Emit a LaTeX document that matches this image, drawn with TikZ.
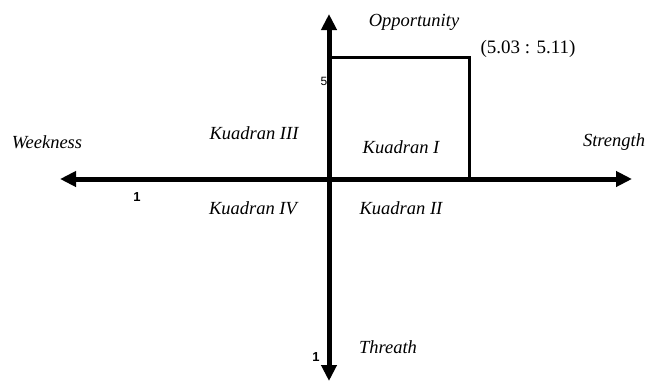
\documentclass[tikz,border=0pt]{standalone}
\usepackage{fontspec}
\setmainfont{Liberation Serif}
\newfontfamily\numfont{Liberation Sans}
\usetikzlibrary{positioning}
\usetikzlibrary{arrows.meta}

\begin{document}
\begin{tikzpicture}[
    x=1pt, y=1pt,
    >={Triangle[length=16pt,width=15pt]},
    % node styles
    lbl/.style = {
      inner sep=0pt,
      font=\itshape\fontsize{18.5}{20}\selectfont
    },
    val/.style = {
      inner sep=0pt,
      font=\fontsize{19}{21}\selectfont
    },
    tick/.style = {
      inner sep=0pt,
      font=\numfont\bfseries\fontsize{13}{15}\selectfont
    },
    % line styles
    axis/.style = {<->, line width=5pt},
    box/.style = {line width=3pt}
  ]
  \useasboundingbox (0,0) rectangle (647,-381);

  % --- Axis ends
  \coordinate (west)  at (60,-179);
  \coordinate (east)  at (632,-179);
  \coordinate (north) at (329,-14);
  \coordinate (south) at (329,-381);
  \coordinate (topL)  at (330,-57);
  \coordinate (topR)  at (469,-57);
  \coordinate (botR)  at (469,-179);

  % --- Axes
  \draw[axis] (west) -- (east);
  \draw[axis] (north) -- (south);

  % --- Point box
  \draw[box] (topL) -- (topR) -- (botR);

  % --- Labels
  \node[lbl] (opp) at (414,-22) {Opportunity};
  \node[val] (pt) at (528,-49) {(5.03 : 5.11)};
  \node[lbl] (weak) at (47,-142) {Weekness};
  \node[lbl] (str) at (614,-142) {Strength};
  \node[lbl] (q3) at (254,-133) {Kuadran III};
  \node[lbl] (q1) at (401,-147) {Kuadran I};
  \node[lbl] (q4) at (253,-208) {Kuadran IV};
  \node[lbl] (q2) at (401,-208) {Kuadran II};
  \node[lbl] (thr) at (388,-347) {Threath};

  % --- Scale marks
  \node[tick] (oneW) at (137,-197) {1};
  \node[tick] (oneS) at (316,-357) {1};
  \node[tick, font=\numfont\fontsize{12}{14}\selectfont] (five) at (324,-81) {5};
\end{tikzpicture}
\end{document}
